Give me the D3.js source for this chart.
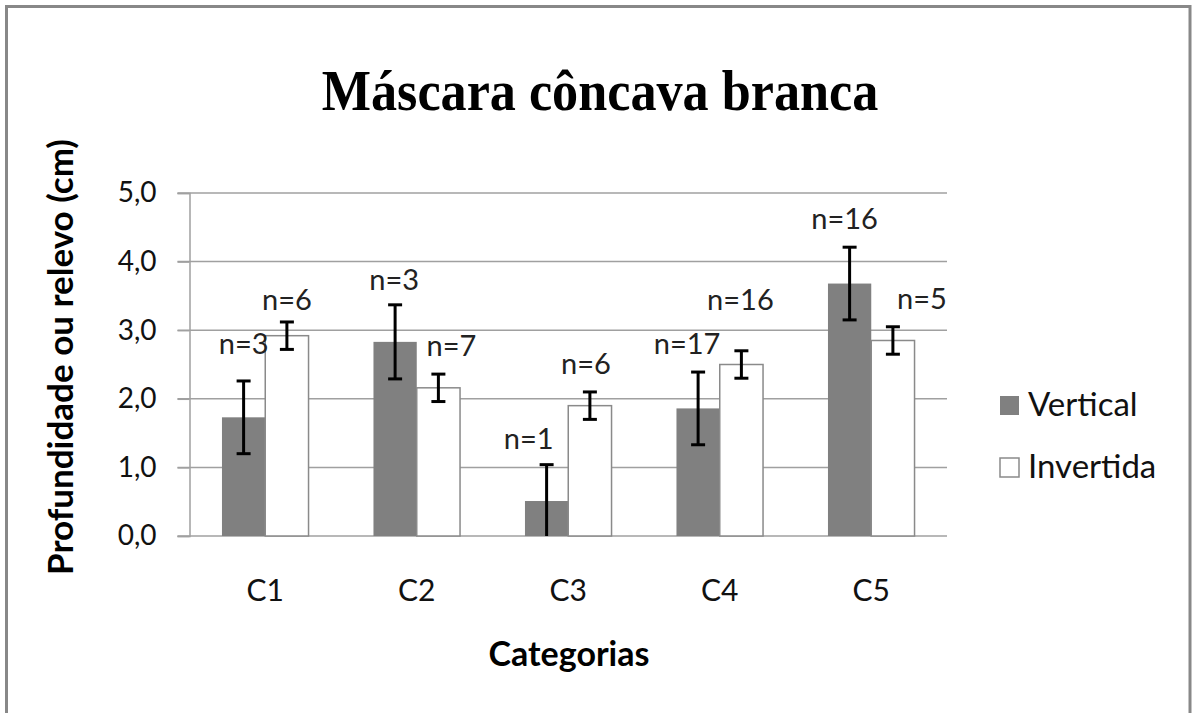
<!DOCTYPE html>
<html>
<head>
<meta charset="utf-8">
<script src="https://cdn.jsdelivr.net/npm/d3@7"></script>
<style>
  body{margin:0;background:#fff;}
  svg{display:block;}
  .tick text{font-family:Lato,"Open Sans",sans-serif;}
</style>
</head>
<body>
<div id="chart"></div>
<script>
/* ---------- DATA ---------- */
const CATEGORIES = ["C1","C2","C3","C4","C5"];
const SERIES     = ["Vertical","Invertida"];
const VERTICAL   = [1.73, 2.83, 0.51, 1.86, 3.68];
const INVERTIDA  = [2.92, 2.16, 1.90, 2.50, 2.85];
const ERR_VERT   = [0.53, 0.54, 0.53, 0.53, 0.53];
const ERR_INV    = [0.20, 0.20, 0.20, 0.20, 0.20];
const N_VERT     = [3, 3, 1, 17, 16];
const N_INV      = [6, 7, 6, 16, 5];
const Y_TICKS    = [0, 1, 2, 3, 4, 5];

/* label nudges (px), hand-placed in the original */
const NUDGE_VERT = [[0,-9],[-1,3],[-18,2],[-11,0],[-5,0]];
const NUDGE_INV  = [[0,6],[13,0],[-4,0],[-1,-23],[29,0]];

/* ---------- LAYOUT ---------- */
const W=1194, H=713;
const PLOT={left:189.5, right:947, top:193, bottom:536};
const FONT='Lato,"Open Sans",sans-serif';
const GRID="#a0a0a0", DARK="#808080";

const svg=d3.select("#chart").append("svg").attr("width",W).attr("height",H);

/* outer frame */
svg.append("rect").attr("x",6.5).attr("y",6.5).attr("width",W-4-6.5).attr("height",H+10)
  .attr("fill","#fff").attr("stroke","#888").attr("stroke-width",3);

/* title (condensed serif) */
svg.append("text").attr("transform","translate(600,110) scale(0.9,1)")
  .attr("text-anchor","middle")
  .style("font-family",'"Liberation Serif","Times New Roman",serif')
  .style("font-weight","bold").style("font-size","58px")
  .text("Máscara côncava branca");

/* scales */
const x0=d3.scaleBand().domain(CATEGORIES).range([PLOT.left,PLOT.right]).paddingInner(0).paddingOuter(0);
const barW=x0.bandwidth()/3.5;
const x1=d3.scaleBand().domain(SERIES).range([0,barW*2]);
const y=d3.scaleLinear().domain([0,5]).range([PLOT.bottom,PLOT.top]);

/* grid */
svg.append("g").selectAll("line").data(Y_TICKS).enter().append("line")
  .attr("x1",PLOT.left-12).attr("x2",PLOT.right)
  .attr("y1",d=>y(d)).attr("y2",d=>y(d))
  .attr("stroke",GRID).attr("stroke-width",1.5);

/* y axis */
const yAxis=svg.append("g").attr("transform",`translate(${PLOT.left},0)`)
  .call(d3.axisLeft(y).tickValues(Y_TICKS).tickSize(12).tickPadding(21)
        .tickFormat(d=>d3.format(".1f")(d).replace(".",",")));
yAxis.select(".domain").attr("stroke",GRID).attr("stroke-width",1.5);
yAxis.selectAll(".tick line").attr("stroke",GRID).attr("stroke-width",1.5);
yAxis.selectAll(".tick text").style("font-size","28px").attr("fill","#111");

/* bars */
const rows=CATEGORIES.map((c,i)=>({
  cat:c,
  vals:[
    {s:"Vertical", v:VERTICAL[i], e:ERR_VERT[i], n:N_VERT[i], nd:NUDGE_VERT[i]},
    {s:"Invertida",v:INVERTIDA[i],e:ERR_INV[i], n:N_INV[i], nd:NUDGE_INV[i]}
  ]
}));

const grp=svg.append("g").selectAll("g").data(rows).enter().append("g")
  .attr("transform",d=>`translate(${x0(d.cat)+x0.bandwidth()/2-barW},0)`);

grp.selectAll("rect").data(d=>d.vals).enter().append("rect")
  .attr("x",d=>x1(d.s)).attr("width",barW)
  .attr("y",d=>y(d.v)).attr("height",d=>y(0)-y(d.v))
  .attr("fill",d=>d.s==="Vertical"?DARK:"#fff")
  .attr("stroke",d=>d.s==="Vertical"?"none":"#8a8a8a")
  .attr("stroke-width",1.5);

/* error bars */
const eb=grp.selectAll("g.err").data(d=>d.vals).enter().append("g").attr("class","err")
  .attr("transform",d=>`translate(${x1(d.s)+barW/2},0)`);
eb.append("line").attr("y1",d=>y(d.v+d.e)).attr("y2",d=>y(Math.max(0,d.v-d.e)))
  .attr("stroke","#000").attr("stroke-width",3);
eb.append("line").attr("x1",-7).attr("x2",7).attr("y1",d=>y(d.v+d.e)).attr("y2",d=>y(d.v+d.e))
  .attr("stroke","#000").attr("stroke-width",3);
eb.filter(d=>d.v-d.e>0).append("line").attr("x1",-7).attr("x2",7)
  .attr("y1",d=>y(d.v-d.e)).attr("y2",d=>y(d.v-d.e))
  .attr("stroke","#000").attr("stroke-width",3);

/* n labels */
eb.append("text").attr("text-anchor","middle")
  .attr("x",d=>d.nd[0]).attr("y",d=>y(d.v+d.e)-17.7+d.nd[1])
  .style("font-family",FONT).style("font-size","29px").attr("fill","#222")
  .text(d=>"n="+d.n);

/* category labels */
svg.append("g").selectAll("text").data(CATEGORIES).enter().append("text")
  .attr("x",d=>x0(d)+x0.bandwidth()/2).attr("y",601).attr("text-anchor","middle")
  .style("font-family",FONT).style("font-size","30px").attr("fill","#111")
  .text(d=>d);

/* axis titles */
svg.append("text").attr("x",569).attr("y",666).attr("text-anchor","middle")
  .style("font-family",FONT).style("font-weight","bold").style("font-size","34px")
  .text("Categorias");
svg.append("text").attr("transform","translate(73,357) rotate(-90)").attr("text-anchor","middle")
  .style("font-family",FONT).style("font-weight","bold").style("font-size","35px")
  .text("Profundidade ou relevo (cm)");

/* legend */
const leg=svg.append("g").selectAll("g").data(SERIES).enter().append("g")
  .attr("transform",(d,i)=>`translate(1000,${396+i*62})`);
leg.append("rect").attr("width",19).attr("height",19)
  .attr("fill",d=>d==="Vertical"?DARK:"#fff")
  .attr("stroke",d=>d==="Vertical"?"none":"#8a8a8a").attr("stroke-width",1.5);
leg.append("text").attr("x",28).attr("y",20)
  .style("font-family",FONT).style("font-size","33px").attr("fill","#111")
  .text(d=>d);
</script>
</body>
</html>
